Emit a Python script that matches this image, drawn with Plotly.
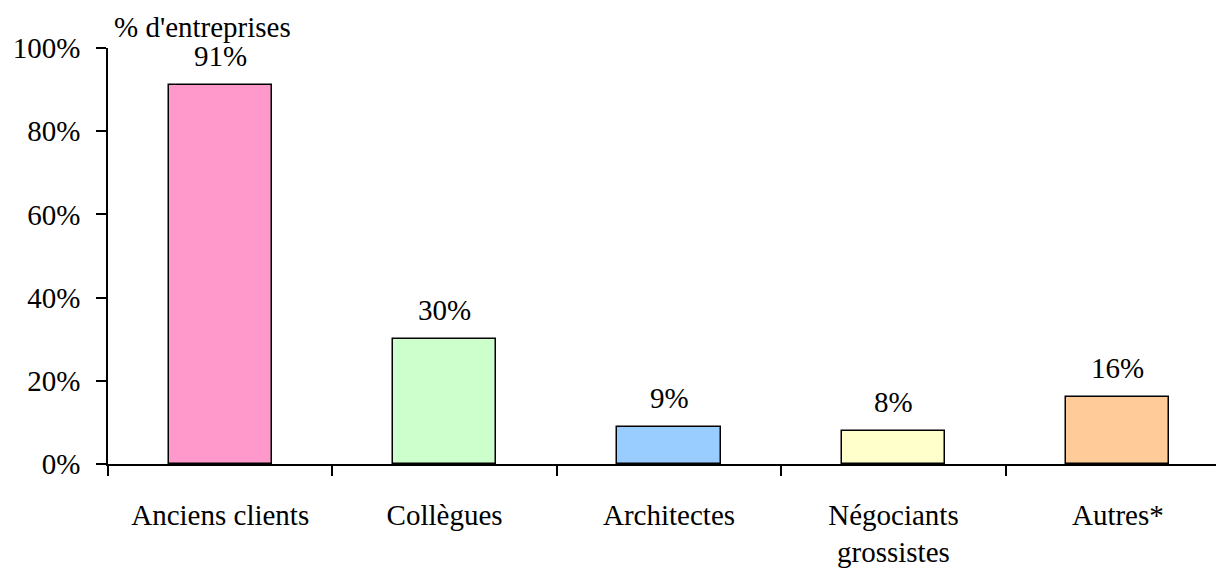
import plotly.graph_objects as go

categories = ["Anciens clients", "Collègues", "Architectes", "Négociants<br>grossistes", "Autres*"]
values = [91, 30, 9, 8, 16]
colors = ["#FF99CC", "#CCFFCC", "#99CCFF", "#FFFFCC", "#FFCC99"]
y_ticks = [0, 20, 40, 60, 80, 100]

font = "Liberation Serif"
fsize = 29

fig = go.Figure()
fig.add_trace(go.Bar(
    x=categories, y=values,
    marker=dict(color=colors, line=dict(color="black", width=1.5)),
    width=0.46,
))

# value labels above the bars
for c, v in zip(categories, values):
    fig.add_annotation(
        x=c, y=v, text=f"{v}%", showarrow=False,
        yanchor="bottom", yshift=11,
        font=dict(family=font, size=fsize, color="black"),
    )

# page body has an 8px margin, so the plot is placed 8px up/left
fig.update_layout(
    width=1224, height=569,
    margin=dict(l=100, r=8, t=40, b=113),
    plot_bgcolor="white", paper_bgcolor="white",
    showlegend=False,
    font=dict(family=font, size=fsize, color="black"),
    bargap=0,
)
fig.add_annotation(
    text="% d'entreprises", xref="paper", yref="paper",
    x=(104 - 100) / 1116, y=(456 - 19) / 416, xanchor="left", yanchor="middle",
    showarrow=False, font=dict(family=font, size=fsize, color="black"),
)

fig.update_xaxes(
    range=[-0.5, 4.473], showline=True, linecolor="black", linewidth=1.5,
    ticks="outside", tickson="boundaries", ticklen=10, tickwidth=1.5, tickcolor="black",
    ticklabelstandoff=24, showgrid=False, automargin=False,
)
fig.update_yaxes(
    range=[0, 100], tickvals=y_ticks, ticktext=[f"{t}%" for t in y_ticks],
    showline=True, linecolor="black", linewidth=1.5,
    ticks="outside", ticklen=10, tickwidth=1.5, tickcolor="black",
    ticklabelstandoff=10, showgrid=False, zeroline=False, automargin=False,
)

fig.write_html("out.html")
